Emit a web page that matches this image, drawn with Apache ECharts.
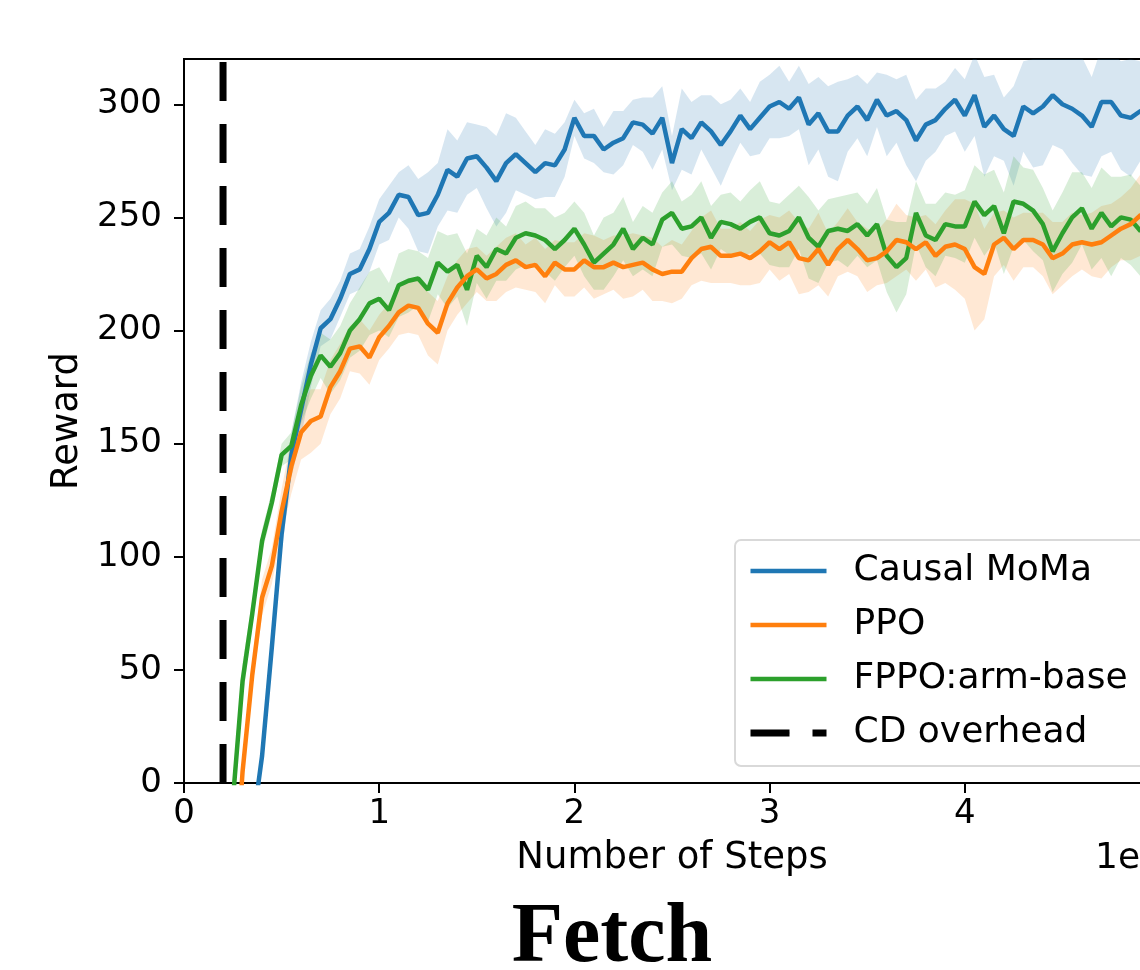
<!DOCTYPE html>
<html>
<head>
<meta charset="utf-8">
<style>
  html, body { margin: 0; padding: 0; background: #fff; }
  #chart { width: 1140px; height: 970px; }
</style>
<script src="https://cdn.jsdelivr.net/npm/echarts@6/dist/echarts.min.js"></script>
</head>
<body>
<div id="chart"></div>
<script>
// x positions in millions of steps (axis offset 1e6)
const steps = [
  0.25, 0.30, 0.35, 0.40, 0.45, 0.50, 0.55, 0.60, 0.65, 0.70,
  0.75, 0.80, 0.85, 0.90, 0.95, 1.00, 1.05, 1.10, 1.15, 1.20,
  1.25, 1.30, 1.35, 1.40, 1.45, 1.50, 1.55, 1.60, 1.65, 1.70,
  1.75, 1.80, 1.85, 1.90, 1.95, 2.00, 2.05, 2.10, 2.15, 2.20,
  2.25, 2.30, 2.35, 2.40, 2.45, 2.50, 2.55, 2.60, 2.65, 2.70,
  2.75, 2.80, 2.85, 2.90, 2.95, 3.00, 3.05, 3.10, 3.15, 3.20,
  3.25, 3.30, 3.35, 3.40, 3.45, 3.50, 3.55, 3.60, 3.65, 3.70,
  3.75, 3.80, 3.85, 3.90, 3.95, 4.00, 4.05, 4.10, 4.15, 4.20,
  4.25, 4.30, 4.35, 4.40, 4.45, 4.50, 4.55, 4.60, 4.65, 4.70,
  4.75, 4.80, 4.85, 4.90, 4.95, 5.00
];

const causalMoma = [
  -100, -60, -20, 12, 60, 110, 145, 165, 185, 201,
  205, 214, 225, 227, 236, 248, 252, 260, 259, 251,
  252, 260, 271, 268, 276, 277, 272, 266, 274, 278,
  274, 270, 274, 273, 280, 294, 286, 286, 280, 283,
  285, 292, 291, 287, 294, 274, 289, 285, 292, 288,
  282, 288, 295, 289, 294, 299, 301, 298, 303, 291,
  296, 288, 288, 295, 299, 293, 302, 295, 297, 293,
  284, 291, 293, 298, 302, 295, 304, 290, 295, 289,
  286, 299, 296, 299, 304, 300, 298, 295, 290, 301,
  301, 295, 294, 297, 295, 298
];
const causalMomaStd = [
  2, 2, 2, 3, 5, 8, 10, 12, 10, 8,
  9, 8, 9, 9, 10, 10, 12, 10, 14, 16,
  18, 14, 18, 16, 16, 14, 18, 20, 22, 16,
  14, 12, 15, 14, 12, 8, 10, 12, 10, 14,
  12, 10, 12, 16, 14, 12, 18, 16, 12, 16,
  18, 14, 12, 12, 16, 14, 16, 12, 14, 18,
  16, 20, 22, 16, 14, 16, 12, 18, 14, 20,
  18, 16, 14, 12, 14, 16, 18, 22, 18, 14,
  22, 20, 24, 26, 22, 20, 24, 26, 22, 24,
  22, 24, 26, 22, 22, 22
];

const ppo = [
  -60, 5, 48, 82, 96, 120, 140, 155, 160, 162,
  175, 182, 192, 193, 188, 197, 202, 208, 211, 210,
  203, 199, 212, 219, 224, 227, 223, 225, 229, 231,
  228, 229, 224, 230, 227, 227, 231, 228, 228, 230,
  228, 229, 230, 227, 225, 226, 226, 232, 236, 237,
  233, 233, 234, 232, 235, 239, 236, 239, 232, 231,
  236, 229, 236, 240, 236, 231, 232, 235, 240, 239,
  236, 239, 233, 237, 238, 236, 228, 225, 238, 241,
  236, 240, 240, 238, 232, 234, 238, 239, 238, 239,
  242, 245, 247, 251, 250, 252
];
const ppoStd = [
  3, 5, 6, 8, 8, 10, 12, 12, 14, 12,
  12, 12, 10, 12, 12, 10, 10, 10, 12, 12,
  14, 14, 12, 12, 12, 10, 10, 12, 12, 12,
  10, 12, 12, 10, 12, 12, 12, 14, 12, 12,
  14, 14, 12, 14, 12, 14, 12, 12, 14, 16,
  12, 12, 14, 12, 14, 12, 14, 14, 16, 14,
  16, 14, 12, 14, 12, 14, 12, 14, 16, 12,
  14, 12, 14, 16, 20, 22, 28, 20, 14, 12,
  14, 12, 12, 14, 16, 14, 14, 12, 14, 16,
  14, 14, 16, 18, 18, 18
];

const fppoArmBase = [
  -8, 45, 75, 107, 124, 145, 149, 167, 180, 189,
  184, 190, 200, 205, 212, 214, 209, 220, 222, 223,
  218, 230, 226, 229, 218, 233, 228, 236, 234, 241,
  243, 242, 240, 236, 240, 245, 238, 230, 234, 238,
  245, 236, 241, 238, 249, 252, 245, 246, 250, 241,
  248, 247, 245, 248, 250, 243, 242, 244, 250, 241,
  237, 244, 245, 244, 247, 242, 247, 233, 228, 232,
  252, 242, 240, 247, 246, 246, 257, 251, 255, 243,
  257, 256, 253, 247, 235, 243, 250, 254, 245, 252,
  246, 250, 249, 244, 247, 248
];
const fppoArmBaseStd = [
  10, 8, 6, 5, 5, 5, 6, 8, 10, 10,
  12, 12, 12, 14, 14, 14, 12, 14, 14, 12,
  14, 14, 16, 14, 16, 12, 14, 14, 12, 14,
  14, 12, 14, 14, 12, 12, 14, 12, 16, 14,
  14, 12, 14, 14, 12, 14, 12, 14, 16, 14,
  12, 14, 12, 14, 16, 14, 14, 16, 14, 18,
  16, 14, 14, 16, 14, 14, 16, 16, 20, 16,
  14, 14, 16, 14, 14, 16, 16, 18, 16, 18,
  20, 16, 18, 16, 18, 18, 20, 16, 18, 20,
  22, 18, 20, 20, 20, 20
];

const cdOverhead = 0.2;
const xTicks = [0, 1, 2, 3, 4, 5];
const yTicks = [0, 50, 100, 150, 200, 250, 300];

const BLUE = '#1f77b4';
const ORANGE = '#ff7f0e';
const GREEN = '#2ca02c';
const FONT = 'DejaVu Sans';

function meanSeries(name, vals, color, z) {
  return {
    name: name,
    type: 'line',
    symbol: 'none',
    z: z,
    lineStyle: { color: color, width: 4.5 },
    itemStyle: { color: color },
    data: steps.map((x, i) => [x, vals[i]]),
  };
}

// mean +/- std band drawn as one polygon through the axis scales
function bandSeries(vals, std, color) {
  return {
    type: 'custom',
    silent: true,
    z: 1,
    data: [[steps[0], vals[0]]],
    renderItem: function (params, api) {
      const upper = steps.map((x, i) => api.coord([x, vals[i] + std[i]]));
      const lower = steps.map((x, i) => api.coord([x, vals[i] - std[i]])).reverse();
      const cs = params.coordSys;
      return {
        type: 'polygon',
        shape: { points: upper.concat(lower) },
        style: { fill: color, opacity: 0.18 },
        clipPath: { type: 'rect', shape: { x: cs.x, y: cs.y, width: cs.width, height: cs.height } },
      };
    },
  };
}

const chart = echarts.init(document.getElementById('chart'));

chart.setOption({
  animation: false,
  backgroundColor: '#fff',
  grid: {
    left: 184,
    top: 59,
    width: 976,
    height: 724,
    show: true,
    borderColor: '#000',
    borderWidth: 2,
    outerBoundsMode: 'none',
  },
  xAxis: {
    type: 'value',
    min: 0,
    max: 5,
    name: 'Number of Steps',
    nameLocation: 'middle',
    nameGap: 57,
    nameTextStyle: { fontFamily: FONT, fontSize: 37, color: '#000' },
    axisLine: { lineStyle: { color: '#000', width: 2 } },
    axisTick: { length: 10, lineStyle: { color: '#000', width: 2 }, customValues: xTicks },
    axisLabel: { customValues: xTicks, fontFamily: FONT, fontSize: 34, color: '#000', margin: 14 },
    splitLine: { show: false },
  },
  yAxis: {
    type: 'value',
    min: 0,
    max: 320,
    name: 'Reward',
    nameLocation: 'middle',
    nameGap: 98,
    nameTextStyle: { fontFamily: FONT, fontSize: 37, color: '#000' },
    axisLine: { show: true, lineStyle: { color: '#000', width: 2 } },
    axisTick: { show: true, length: 10, lineStyle: { color: '#000', width: 2 }, customValues: yTicks },
    axisLabel: { customValues: yTicks, fontFamily: FONT, fontSize: 34, color: '#000', margin: 22 },
    splitLine: { show: false },
  },
  legend: {
    orient: 'vertical',
    left: 735,
    top: 540,
    padding: [11, 40, 13, 12],
    itemWidth: 76,
    itemHeight: 2,
    itemGap: 14,
    selectedMode: false,
    backgroundColor: 'rgba(255,255,255,0.8)',
    borderColor: '#d9d9d9',
    borderWidth: 2,
    borderRadius: 6,
    textStyle: { fontFamily: FONT, fontSize: 36, color: '#000', lineHeight: 40, padding: [0, 0, 0, 22] },
    data: [
      { name: 'Causal MoMa', lineStyle: { width: 4.5 } },
      { name: 'PPO', lineStyle: { width: 4.5 } },
      { name: 'FPPO:arm-base', lineStyle: { width: 4.5 } },
      { name: 'CD overhead', lineStyle: { width: 7, type: [39, 23] } },
    ],
  },
  graphic: [
    {
      type: 'text',
      left: 1095,
      top: 841,
      style: { text: '1e6', font: '36px "DejaVu Sans"', fill: '#000' },
    },
    {
      type: 'text',
      x: 612,
      y: 939,
      style: {
        text: 'Fetch',
        font: 'bold 84px "Liberation Serif"',
        fill: '#000',
        align: 'center',
        verticalAlign: 'middle',
      },
    },
  ],
  series: [
    bandSeries(causalMoma, causalMomaStd, BLUE),
    bandSeries(ppo, ppoStd, ORANGE),
    bandSeries(fppoArmBase, fppoArmBaseStd, GREEN),
    meanSeries('Causal MoMa', causalMoma, BLUE, 3),
    meanSeries('FPPO:arm-base', fppoArmBase, GREEN, 4),
    meanSeries('PPO', ppo, ORANGE, 5),
    {
      name: 'CD overhead',
      type: 'line',
      symbol: 'none',
      z: 6,
      lineStyle: { color: '#000', width: 7, type: [39, 23] },
      itemStyle: { color: '#000' },
      data: [[cdOverhead, 0], [cdOverhead, 320]],
    },
  ],
});
</script>
</body>
</html>
